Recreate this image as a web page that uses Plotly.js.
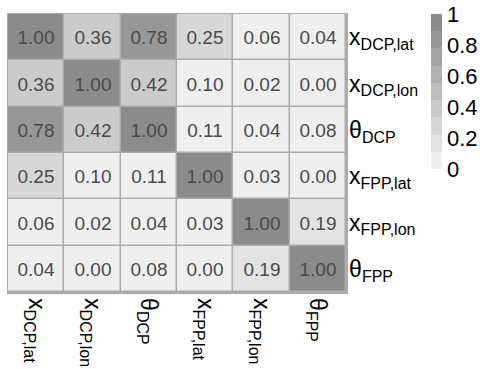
<!DOCTYPE html>
<html>
<head>
<meta charset="utf-8">
<script src="https://cdn.plot.ly/plotly-3.0.1.min.js"></script>
<style>
  html, body { margin: 0; padding: 0; background: #fff; }
  #chart { width: 480px; height: 369px; }
</style>
</head>
<body>
<div id="chart"></div>
<script>
// Subscripted variable name: main symbol plus a larger-than-default subscript
const label = (sym, sub) => sym + '<sub><span style="font-size:16px">' + sub + '</span></sub>';

// Variable names (columns left→right, rows top→bottom)
const variables = [
  label('x', 'DCP,lat'),
  label('x', 'DCP,lon'),
  label('θ', 'DCP'),
  label('x', 'FPP,lat'),
  label('x', 'FPP,lon'),
  label('θ', 'FPP')
];

// Absolute correlation values, one array per row
const rowDcpLat = [1.00, 0.36, 0.78, 0.25, 0.06, 0.04];
const rowDcpLon = [0.36, 1.00, 0.42, 0.10, 0.02, 0.00];
const rowDcpTheta = [0.78, 0.42, 1.00, 0.11, 0.04, 0.08];
const rowFppLat = [0.25, 0.10, 0.11, 1.00, 0.03, 0.00];
const rowFppLon = [0.06, 0.02, 0.04, 0.03, 1.00, 0.19];
const rowFppTheta = [0.04, 0.00, 0.08, 0.00, 0.19, 1.00];

const colorbarTicks = [0, 0.2, 0.4, 0.6, 0.8, 1];
const colorbarLabels = ['0', '0.2', '0.4', '0.6', '0.8', '1'];

// Nine grey levels, light to dark
const greys = ['#efefef', '#e3e3e3', '#d7d7d7', '#cbcbcb', '#bdbdbd',
               '#b0b0b0', '#a3a3a3', '#979797', '#8b8b8b'];

// Stepped colour scale: each grey fills an equal ninth of [0, 1]
const colorscale = [];
greys.forEach((c, i) => {
  colorscale.push([i / greys.length, c]);
  colorscale.push([(i + 1) / greys.length, c]);
});

const z = [rowDcpLat, rowDcpLon, rowDcpTheta, rowFppLat, rowFppLon, rowFppTheta];

const trace = {
  type: 'heatmap',
  x: variables,
  y: variables,
  z: z,
  zmin: 0,
  zmax: 1,
  colorscale: colorscale,
  xgap: 1.5,
  ygap: 1.5,
  texttemplate: '%{z:.2f}',
  textfont: { family: 'Liberation Sans, Arial, sans-serif', size: 19, color: '#4a4a4a' },
  hoverinfo: 'skip',
  colorbar: {
    x: 1.248,
    xanchor: 'left',
    y: 1,
    yanchor: 'top',
    len: 0.558,
    lenmode: 'fraction',
    thickness: 11,
    xpad: 0,
    ypad: 0,
    outlinewidth: 0,
    ticks: '',
    tickvals: colorbarTicks,
    ticktext: colorbarLabels,
    tickfont: { family: 'Liberation Sans, Arial, sans-serif', size: 22, color: '#000' }
  }
};

const layout = {
  width: 480,
  height: 369,
  margin: { l: 8, r: 133, t: 14, b: 77 },
  paper_bgcolor: '#ffffff',
  plot_bgcolor: '#ababab',
  font: { family: 'Liberation Sans, Arial, sans-serif', color: '#000' },
  xaxis: {
    type: 'category',
    side: 'bottom',
    tickangle: 90,
    ticks: '',
    showgrid: false,
    zeroline: false,
    showline: true,
    mirror: true,
    linecolor: '#ababab',
    linewidth: 1.5,
    tickfont: { size: 23, color: '#000' },
    ticklabelstandoff: 0
  },
  yaxis: {
    type: 'category',
    side: 'right',
    autorange: 'reversed',
    ticks: '',
    showgrid: false,
    zeroline: false,
    showline: true,
    mirror: true,
    linecolor: '#ababab',
    linewidth: 1.5,
    tickfont: { size: 23, color: '#000' },
    ticklabelstandoff: -3
  }
};

Plotly.newPlot('chart', [trace], layout, { displayModeBar: false, staticPlot: true });
</script>
</body>
</html>
